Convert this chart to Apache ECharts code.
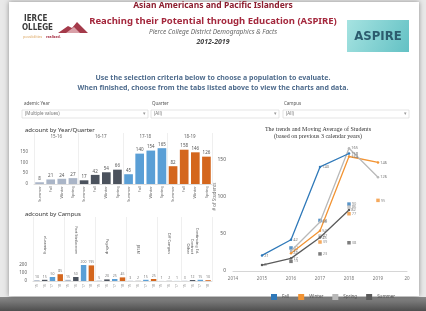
<!DOCTYPE html>
<html>
<head>
<meta charset="utf-8">
<script src="https://cdn.jsdelivr.net/npm/echarts@6/dist/echarts.min.js"></script>
<style>
  html, body { margin: 0; padding: 0; background: #e6e6e6; }
  #chart { width: 426px; height: 311px; }
</style>
</head>
<body>
<div id="chart"></div>
<script>
// headcount by year / quarter
const quarters = ['Summer', 'Fall', 'Winter', 'Spring']
const years = ['15-16', '16-17', '17-18', '18-19']
const quarterHeadcount = [
  [8, 21, 24, 27],
  [17, 42, 54, 66],
  [45, 140, 154, 165],
  [82, 158, 146, 126]
]

// headcount by campus (year index of every bar + value)
const campuses = ['eLearning', 'Fort Steilacoom', 'Puyallup', 'JBLM', 'Off Campus', 'Continuing Ed.\nContract\nOther']
const campusYearIdx = [[0, 1, 2, 3], [0, 1, 2, 3], [0, 1, 2, 3], [0, 1, 2, 3], [0, 1, 2], [0, 1, 2, 3]]
const campusHeadcount = [
  [10, 15, 50, 85],
  [15, 50, 200, 195],
  [5, 20, 25, 45],
  [3, 2, 15, 25],
  [1, 2, 1],
  [3, 12, 15, 10]
]

// trends (calendar year, students)
const trendTicks = ['2014', '2015', '2016', '2017', '2018', '2019', '20']
const fallCounts = [[2015, 21], [2016, 42], [2017, 140], [2018, 158]]
const winterCounts = [[2016, 24], [2017, 54], [2018, 154], [2019, 146]]
const springCounts = [[2016, 27], [2017, 66], [2018, 165], [2019, 126]]
const summerCounts = [[2015, 8], [2016, 17], [2017, 45], [2018, 82]]
const fallAvg = [[2016, 31], [2017, 68], [2018, 90]]
const winterAvg = [[2017, 39], [2018, 77], [2019, 95]]
const springAvg = [[2017, 47], [2018, 86]]
const summerAvg = [[2016, 13], [2017, 23], [2018, 38]]

const yearColors = ['#aab5c7', '#4b525d', '#5a9fd6', '#d4661d']
const lineColors = { Fall: '#2f79b9', Winter: '#f29434', Spring: '#b9b9b9', Summer: '#5b5b5b' }

// flatten quarter bars
const qCats = []
const qData = []
years.forEach((y, yi) => {
  quarters.forEach((q, qi) => {
    qCats.push(q)
    qData.push({ value: quarterHeadcount[yi][qi], itemStyle: { color: yearColors[yi] } })
  })
})

// flatten campus bars
const cCats = []
const cData = []
const cBounds = []
const cLabelAt = {}
campuses.forEach((c, ci) => {
  cBounds.push(cCats.length)
  cLabelAt[cCats.length + Math.floor((campusYearIdx[ci].length - 1) / 2)] = c
  campusYearIdx[ci].forEach((yi, k) => {
    cCats.push(years[yi].slice(0, 2))
    cData.push({ value: campusHeadcount[ci][k], itemStyle: { color: yearColors[yi] } })
  })
})
cBounds.push(cCats.length)

const chart = echarts.init(document.getElementById('chart'), null, { renderer: 'canvas' })

const txt = (text, x, y, font, fill, align) => ({
  type: 'text', silent: true,
  style: { text, x, y, font, fill, textAlign: align || 'left', textVerticalAlign: 'middle' }
})
const dropdown = (x, w, label) => ([
  { type: 'rect', shape: { x, y: 110, width: w, height: 8 }, style: { fill: '#fff', stroke: '#d4d4d4', lineWidth: 0.6 } },
  txt(label, x + 3, 114, '4.5px "Noto Sans"', '#777'),
  txt('\u25BE', x + w - 5, 114, '5px "DejaVu Sans"', '#999')
])

const tickLabel = { fontSize: 5, color: '#5a5a5a', hideOverlap: false }

const option = {
  animation: false,
  backgroundColor: '#e9e9e9',
  textStyle: { fontFamily: 'Noto Sans' },
  graphic: {
    z: -100,
    elements: [
      { type: 'rect', shape: { x: 0, y: 297, width: 426, height: 14 }, style: { fill: new echarts.graphic.LinearGradient(0, 0, 0, 1, [{ offset: 0, color: '#8a8a8a' }, { offset: 1, color: '#4e4e4e' }]) } },
      { type: 'rect', shape: { x: 9, y: 2, width: 410, height: 294 }, style: { fill: '#fff', shadowBlur: 5, shadowColor: 'rgba(0,0,0,0.4)' } },
      // header
      txt('Asian Americans and Pacific Islanders', 213, 6, 'bold 8.5px "Noto Sans"', '#8d1f30', 'center'),
      txt('Reaching their Potential through Education (ASPIRE)', 213, 21, 'bold 9.5px "Noto Sans"', '#a4283d', 'center'),
      txt('Pierce College District Demographics & Facts', 213, 32, 'italic 6.5px "Noto Sans"', '#666', 'center'),
      txt('2012-2019', 213, 42, 'bold italic 7px "Noto Sans"', '#444', 'center'),
      // pierce logo
      txt('IERCE', 24, 19, 'bold 8px "DejaVu Sans Condensed"', '#3b3b3b'),
      txt('OLLEGE', 22, 28, 'bold 8px "DejaVu Sans Condensed"', '#3b3b3b'),
      { type: 'polygon', silent: true, shape: { points: [[58, 33], [68, 26], [72, 28], [77, 22], [88, 33]] }, style: { fill: '#a43a4a' } },
      { type: 'polygon', silent: true, shape: { points: [[66, 33], [74, 27], [80, 33]] }, style: { fill: '#d9a0a8' } },
      txt('possibilities', 23, 37, '3.5px "Noto Sans"', '#dba25b'),
      txt('realized.', 46, 37, 'bold 3.5px "Noto Sans"', '#a4283d'),
      // aspire logo
      { type: 'rect', silent: true, shape: { x: 347, y: 20, width: 62, height: 32 }, style: { fill: new echarts.graphic.LinearGradient(0, 0, 1, 1, [{ offset: 0, color: '#a6e3e1' }, { offset: 1, color: '#63c1c4' }]) } },
      txt('ASPIRE', 378, 37, 'bold 13px "DejaVu Sans Condensed"', '#2c5c6e', 'center'),
      // instructions
      txt('Use the selection criteria below to choose a population to evaluate.', 213, 78, 'bold 7px "Noto Sans"', '#4f6c8d', 'center'),
      txt('When finished, choose from the tabs listed above to view the charts and data.', 213, 88, 'bold 7px "Noto Sans"', '#4f6c8d', 'center'),
      // filters
      txt('ademic Year', 24, 104, '4.5px "Noto Sans"', '#555'),
      txt('Quarter', 152, 104, '4.5px "Noto Sans"', '#555'),
      txt('Campus', 284, 104, '4.5px "Noto Sans"', '#555'),
      ...dropdown(22, 126, '(Multiple values)'),
      ...dropdown(151, 128, '(All)'),
      ...dropdown(283, 126, '(All)'),
      // section titles
      txt('adcount by Year/Quarter', 25, 130, '6px "Noto Sans"', '#333'),
      txt('adcount by Campus', 25, 214, '6px "Noto Sans"', '#333'),
      txt('The trends and Moving Average of Students', 318, 129, '6px "Liberation Serif"', '#333', 'center'),
      txt('(based on previous 3 calendar years)', 318, 136, '6px "Liberation Serif"', '#333', 'center')
    ]
  },
  legend: {
    data: ['Fall', 'Winter', 'Spring', 'Summer'],
    left: 266, top: 289,
    icon: 'rect', itemWidth: 6, itemHeight: 6, itemGap: 9,
    textStyle: { fontSize: 4.5, color: '#555', padding: [0, 0, 0, 0] }
  },
  grid: [
    { left: 34, right: 214, top: 133, bottom: 127 },
    { left: 33, right: 214, top: 217, bottom: 30 },
    { left: 233, right: 19, top: 122.3, bottom: 40 }
  ],
  xAxis: [
    {
      gridIndex: 0, type: 'category', data: qCats,
      axisLine: { lineStyle: { color: '#ddd' } }, axisTick: { show: false },
      axisLabel: { rotate: 90, fontSize: 4, color: '#777', margin: 2, interval: 0 }
    },
    {
      gridIndex: 0, type: 'category', data: years, position: 'top', offset: -8,
      axisLine: { show: false }, axisTick: { show: false },
      axisLabel: { fontSize: 4.5, color: '#666', margin: 2 },
      splitLine: { show: true, lineStyle: { color: '#e4e4e4', width: 0.6 } }
    },
    {
      gridIndex: 1, type: 'category', data: cCats,
      axisLine: { lineStyle: { color: '#ddd' } }, axisTick: { show: false },
      axisLabel: { rotate: 90, fontSize: 3.5, color: '#888', margin: 3, interval: 0 }
    },
    {
      gridIndex: 1, type: 'category', data: cCats, position: 'top', offset: -41,
      axisLine: { show: false }, axisTick: { show: false },
      axisLabel: {
        rotate: 90, fontSize: 3.8, color: '#555', margin: 4, lineHeight: 4.5,
        interval: (i) => cLabelAt[i] !== undefined,
        formatter: (v, i) => cLabelAt[i] || ''
      },
      splitLine: { show: true, interval: (i) => cBounds.includes(i), lineStyle: { color: '#e4e4e4', width: 0.6 } }
    },
    {
      gridIndex: 2, type: 'value', min: 2014, max: 2020, interval: 1,
      axisLine: { show: true, lineStyle: { color: '#d6d6d6' } }, axisTick: { show: false },
      splitLine: { show: false },
      axisLabel: { fontSize: 4.5, color: '#777', margin: 5, showMinLabel: true, showMaxLabel: true, formatter: (v) => trendTicks[v - 2014] }
    }
  ],
  yAxis: [
    {
      gridIndex: 0, type: 'value', min: 0, max: 235, interval: 50,
      splitLine: { show: false }, axisLine: { show: false }, axisTick: { show: false },
      axisLabel: { ...tickLabel, fontSize: 4.5, color: '#666', margin: 6, formatter: (v) => (v <= 150 ? String(v) : '') }
    },
    {
      gridIndex: 1, type: 'value', min: 0, max: 800, interval: 100,
      splitLine: { show: false }, axisLine: { show: false }, axisTick: { show: false },
      axisLabel: { ...tickLabel, fontSize: 4.5, margin: 6, formatter: (v) => (v <= 200 ? String(v) : '') }
    },
    {
      gridIndex: 2, type: 'value', min: 0, max: 200, interval: 50,
      name: '# of Students', nameLocation: 'middle', nameRotate: 90, nameGap: 16,
      nameMoveOverlap: false,
      nameTextStyle: { fontSize: 4.5, color: '#777' },
      splitLine: { show: false }, axisLine: { show: false }, axisTick: { show: false },
      axisLabel: { ...tickLabel, margin: 7, formatter: (v) => (v <= 150 ? String(v) : '') }
    }
  ],
  series: [
    {
      type: 'bar', xAxisIndex: 0, yAxisIndex: 0, data: qData, barCategoryGap: '22%',
      label: { show: true, position: 'top', fontSize: 4.5, color: '#555', distance: 1 }
    },
    {
      type: 'bar', xAxisIndex: 2, yAxisIndex: 1, data: cData, barCategoryGap: '30%',
      label: { show: true, position: 'top', fontSize: 3.5, color: '#777', distance: 1 }
    },
    ...['Fall', 'Winter', 'Spring', 'Summer'].map((name, i) => ({
      name, type: 'line', xAxisIndex: 4, yAxisIndex: 2,
      data: [fallCounts, winterCounts, springCounts, summerCounts][i],
      color: lineColors[name], symbol: 'circle', symbolSize: 2.5,
      lineStyle: { width: 1.3 },
      label: { show: true, position: 'right', fontSize: 4, color: '#777', distance: 1 },
      z: 3 + (i === 0 ? 1 : 0)
    })),
    ...['Fall', 'Winter', 'Spring', 'Summer'].map((name, i) => ({
      name, type: 'scatter', xAxisIndex: 4, yAxisIndex: 2,
      data: [fallAvg, winterAvg, springAvg, summerAvg][i],
      color: lineColors[name], symbol: 'rect', symbolSize: 3.5,
      label: { show: true, position: 'right', fontSize: 4, color: '#777', distance: 1 }
    }))
  ]
}

chart.setOption(option)
</script>
</body>
</html>
